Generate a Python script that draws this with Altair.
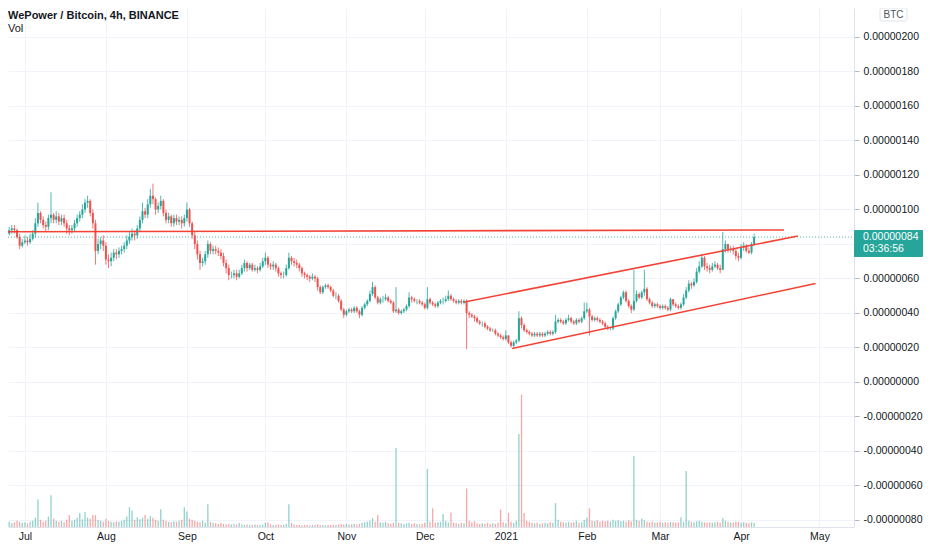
import altair as alt
import pandas as pd

# Prices are in satoshi (1e-8 BTC); the axis labels scale them back.
first_day = "2020-06-24"
first_open = 85

closes = [
    86, 88, 89, 88, 84, 79, 81, 82, 81, 83,
    86, 92, 98, 94, 91, 90, 95, 97, 94, 96,
    93, 95, 92, 89, 88, 89, 92, 95, 97, 100,
    104, 105, 98, 92, 76, 80, 82, 79, 71, 70,
    72, 75, 74, 76, 77, 79, 82, 84, 86, 85,
    89, 94, 99, 97, 103, 108, 106, 100, 102, 105,
    98, 94, 96, 92, 95, 93, 94, 92, 95, 100,
    92, 85, 80, 74, 69, 70, 74, 80, 76, 77,
    76, 75, 73, 69, 66, 62, 62, 63, 61, 63,
    66, 69, 66, 68, 65, 66, 65, 67, 70, 72,
    68, 67, 68, 66, 63, 62, 62, 66, 72, 70,
    69, 68, 66, 63, 62, 61, 60, 61, 60, 55,
    52, 55, 56, 55, 53, 50, 50, 47, 42, 39,
    41, 42, 41, 43, 41, 39, 43, 45, 47, 51,
    55, 49, 46, 48, 48, 49, 47, 46, 41, 42,
    40, 41, 42, 44, 49, 48, 47, 47, 46, 45,
    43, 48, 46, 45, 44, 46, 47, 47, 48, 50,
    48, 47, 46, 47, 46, 47, 40, 39, 38, 37,
    35, 34, 34, 32, 31, 30, 30, 28, 27, 26,
    25, 27, 23, 21, 23, 24, 37, 33, 30, 29,
    28, 27, 28, 27, 28, 27, 28, 29, 28, 29,
    35, 36, 35, 34, 36, 37, 35, 34, 36, 35,
    37, 41, 42, 38, 36, 37, 36, 35, 34, 32,
    31, 31, 37, 41, 45, 49, 52, 47, 44, 42,
    47, 51, 49, 52, 54, 48, 46, 44, 45, 44,
    43, 44, 43, 42, 48, 45, 44, 43, 45, 49,
    53, 57, 56, 58, 64, 67, 72, 67, 66, 65,
    67, 68, 66, 65, 77, 80, 77, 77, 76, 73,
    72, 78, 79, 76, 75, 80, 84,
]

highs = [
    89, 90, 91, 91, 89, 86, 83, 85, 84, 86,
    88, 95, 104, 99, 96, 93, 97, 110, 98, 99,
    98, 97, 97, 94, 91, 91, 94, 97, 99, 103,
    106, 108, 106, 100, 94, 83, 84, 85, 81, 74,
    75, 77, 77, 78, 79, 81, 85, 87, 89, 88,
    91, 96, 104, 101, 106, 112, 115, 107, 104, 108,
    106, 100, 98, 97, 97, 97, 96, 96, 97, 104,
    101, 93, 87, 82, 76, 72, 76, 82, 81, 79,
    79, 78, 77, 75, 71, 68, 64, 65, 65, 65,
    68, 71, 70, 69, 69, 68, 67, 69, 72, 75,
    73, 69, 70, 69, 67, 64, 64, 68, 75, 73,
    72, 71, 69, 67, 64, 63, 62, 63, 62, 61,
    56, 56, 57, 57, 56, 54, 52, 51, 48, 43,
    42, 43, 43, 44, 44, 42, 44, 46, 48, 53,
    58, 56, 50, 49, 50, 51, 50, 48, 47, 55,
    43, 42, 43, 45, 52, 50, 49, 48, 48, 47,
    46, 55, 49, 47, 46, 47, 48, 49, 50, 53,
    51, 49, 48, 48, 48, 48, 48, 41, 40, 39,
    38, 36, 35, 35, 33, 32, 31, 31, 29, 28,
    27, 30, 27, 24, 24, 25, 41, 38, 34, 31,
    30, 29, 29, 29, 29, 29, 29, 30, 30, 30,
    39, 37, 37, 36, 37, 39, 38, 36, 37, 37,
    38, 46, 46, 43, 39, 38, 38, 37, 36, 35,
    33, 32, 38, 42, 46, 50, 53, 53, 48, 45,
    65, 53, 52, 53, 65, 55, 49, 47, 46, 46,
    45, 45, 45, 44, 49, 48, 46, 45, 46, 51,
    55, 59, 58, 60, 66, 70, 74, 73, 69, 68,
    69, 70, 69, 68, 87, 82, 80, 79, 79, 77,
    75, 80, 81, 80, 78, 81, 86,
]

lows = [
    83, 85, 86, 86, 83, 77, 78, 80, 79, 80,
    82, 84, 90, 92, 89, 87, 88, 92, 92, 92,
    91, 91, 90, 86, 85, 86, 87, 90, 93, 95,
    98, 101, 96, 89, 68, 74, 77, 76, 68, 66,
    67, 70, 71, 72, 74, 75, 77, 80, 82, 82,
    83, 87, 92, 95, 95, 101, 103, 97, 98, 100,
    96, 92, 92, 90, 90, 91, 91, 89, 90, 93,
    90, 83, 77, 71, 65, 67, 68, 72, 74, 74,
    74, 73, 71, 67, 63, 59, 60, 60, 59, 60,
    62, 64, 64, 65, 64, 64, 63, 64, 66, 68,
    66, 65, 65, 64, 61, 60, 60, 61, 65, 68,
    67, 66, 64, 61, 60, 59, 58, 59, 58, 53,
    51, 51, 54, 54, 52, 49, 48, 46, 41, 37,
    38, 40, 40, 40, 40, 37, 38, 42, 44, 46,
    50, 48, 45, 45, 46, 47, 46, 45, 40, 40,
    39, 39, 40, 41, 43, 46, 46, 45, 45, 44,
    42, 42, 45, 44, 43, 43, 45, 45, 46, 47,
    47, 46, 45, 45, 45, 45, 19, 37, 37, 35,
    34, 33, 32, 31, 30, 29, 29, 27, 26, 25,
    24, 24, 22, 20, 20, 22, 23, 31, 29, 28,
    27, 26, 26, 26, 26, 26, 26, 27, 27, 27,
    28, 34, 34, 33, 33, 35, 34, 33, 33, 34,
    34, 36, 40, 27, 35, 35, 35, 34, 33, 31,
    30, 30, 30, 36, 40, 44, 48, 46, 43, 40,
    41, 46, 48, 48, 50, 47, 45, 43, 43, 43,
    42, 42, 42, 41, 41, 44, 43, 42, 42, 44,
    48, 52, 54, 55, 57, 63, 66, 65, 64, 63,
    64, 66, 65, 63, 68, 75, 75, 75, 74, 71,
    70, 71, 76, 75, 74, 74, 79,
]

volumes = [
    8, 10, 7, 9, 12, 10, 8, 9, 7, 10,
    12, 18, 53, 14, 10, 12, 20, 61, 16, 12,
    10, 12, 9, 14, 23, 12, 14, 18, 27, 15,
    29, 18, 16, 23, 23, 14, 12, 10, 16, 12,
    10, 9, 11, 10, 12, 14, 20, 38, 32, 14,
    19, 15, 18, 23, 16, 21, 18, 14, 12, 34,
    14, 12, 10, 9, 11, 10, 12, 14, 38, 30,
    16, 14, 12, 10, 9, 12, 8, 44, 10, 8,
    7, 6, 8, 6, 5, 6, 5, 6, 5, 8,
    5, 4, 5, 4, 4, 5, 4, 4, 5, 8,
    9, 5, 4, 4, 5, 4, 4, 6, 44, 8,
    5, 4, 4, 3, 4, 4, 3, 4, 4, 5,
    4, 4, 3, 4, 4, 5, 4, 5, 6, 5,
    6, 5, 5, 6, 5, 6, 8, 9, 10, 12,
    17, 10, 23, 9, 8, 10, 7, 6, 8, 152,
    8, 7, 6, 7, 8, 6, 7, 6, 5, 6,
    8, 112, 10, 36, 8, 9, 10, 25, 12, 9,
    28, 8, 7, 6, 8, 7, 74, 12, 9, 11,
    7, 6, 7, 6, 8, 6, 7, 6, 8, 34,
    9, 7, 27, 10, 8, 12, 179, 255, 27, 12,
    10, 8, 7, 8, 6, 7, 8, 7, 9, 8,
    46, 14, 10, 9, 8, 10, 8, 9, 12, 8,
    9, 14, 18, 36, 12, 11, 13, 10, 12, 11,
    12, 10, 14, 12, 13, 11, 12, 10, 13, 11,
    137, 14, 12, 16, 13, 10, 9, 11, 8, 9,
    10, 8, 9, 8, 10, 9, 8, 9, 19, 10,
    108, 12, 10, 9, 11, 12, 10, 9, 8, 9,
    8, 9, 10, 8, 17, 12, 10, 9, 8, 10,
    10, 8, 9, 8, 7, 9, 8,
]

# drawn trend lines: resistance, channel top, channel bottom
line_start = ["2020-06-23T10:00:00", "2020-12-16T05:00:00", "2021-01-03T10:00:00"]
line_end = ["2021-04-17T10:00:00", "2021-04-22T17:00:00", "2021-04-29T12:00:00"]
line_p1 = [87.1, 46.4, 19.4]
line_p2 = [88.1, 84.6, 57.1]

last_price = 84
last_price_label = "0.00000084"
countdown = "03:36:56"
chart_title = "WePower / Bitcoin, 4h, BINANCE"

price_ticks = [-80, -60, -40, -20, 0, 20, 40, 60, 80, 100, 120, 140, 160, 180, 200]
month_ticks = [
    alt.DateTime(year=2020, month=7, date=1),
    alt.DateTime(year=2020, month=8, date=1),
    alt.DateTime(year=2020, month=9, date=1),
    alt.DateTime(year=2020, month=10, date=1),
    alt.DateTime(year=2020, month=11, date=1),
    alt.DateTime(year=2020, month=12, date=1),
    alt.DateTime(year=2021, month=1, date=1),
    alt.DateTime(year=2021, month=2, date=1),
    alt.DateTime(year=2021, month=3, date=1),
    alt.DateTime(year=2021, month=4, date=1),
    alt.DateTime(year=2021, month=5, date=1),
]

TEAL = "#26a69a"
RED = "#ef5350"
LINE_RED = "#f44336"
TEXT = "#131722"
GRID = "#f0f3fa"
FONT = "Liberation Sans"

opens = [first_open] + closes[:-1]
candles = pd.DataFrame({
    "date": pd.date_range(first_day, periods=len(closes), freq="D"),
    "open": opens,
    "high": highs,
    "low": lows,
    "close": closes,
    "volume": volumes,
})
candles["dir"] = ["up" if c >= o else "down" for o, c in zip(opens, closes)]

trends = pd.DataFrame({"start": line_start, "end": line_end, "p1": line_p1, "p2": line_p2})
last = pd.DataFrame({"p": [last_price], "label": [last_price_label], "timer": [countdown]})

x_scale = alt.Scale(domain=[alt.DateTime(year=2020, month=6, date=26, hours=11),
                            alt.DateTime(year=2021, month=5, date=12, hours=7)])
x_axis = alt.Axis(values=month_ticks, title="", grid=True, gridColor=GRID,
                  domainColor="#e0e3eb", ticks=False, labelPadding=4,
                  labelFont=FONT, labelFontSize=10.5, labelColor=TEXT,
                  labelExpr="month(datum.value) == 0 ? timeFormat(datum.value, '%Y') : timeFormat(datum.value, '%b')")
y_scale = alt.Scale(domain=[-84.06, 216.8], nice=False, zero=False)
# the 0.00000080 label sits under the last-price box, so it is left blank
y_axis = alt.Axis(orient="right", values=price_ticks, title="", grid=True, gridColor=GRID,
                  domainColor="#e0e3eb", tickColor="#b2b5be", tickSize=5, labelPadding=4,
                  labelFont=FONT, labelFontSize=10.5, labelColor=TEXT,
                  labelExpr="datum.value == 80 ? '' : (datum.value < 0 ? '-' : '') + format(abs(datum.value) / 100000000, '.8f')")
color = alt.Color("dir:N", scale=alt.Scale(domain=["up", "down"], range=[TEAL, RED]), legend=None)

vol = alt.Chart(candles).mark_bar(size=1.3, opacity=0.5, clip=True).encode(
    x=alt.X("date:T", scale=x_scale, axis=x_axis),
    y=alt.Y("volume:Q", scale=alt.Scale(domain=[0, 1000]), axis=None),
    color=color,
)

price_line = alt.Chart(last).mark_rule(color=TEAL, strokeWidth=1, strokeDash=[1, 2], opacity=0.8).encode(
    x=alt.value(0), x2=alt.value(846),
    y=alt.Y("p:Q", scale=y_scale, axis=y_axis),
)

wicks = alt.Chart(candles).mark_rule(strokeWidth=0.8, clip=True).encode(
    x=alt.X("date:T", scale=x_scale, axis=x_axis),
    y=alt.Y("low:Q", scale=y_scale, axis=y_axis),
    y2="high:Q",
    color=color,
)

bodies = alt.Chart(candles).mark_bar(size=2.0, clip=True).encode(
    x=alt.X("date:T", scale=x_scale, axis=x_axis),
    y=alt.Y("open:Q", scale=y_scale, axis=y_axis),
    y2="close:Q",
    color=color,
)

lines = alt.Chart(trends).mark_rule(color=LINE_RED, strokeWidth=1.6, clip=True).encode(
    x=alt.X("start:T", scale=x_scale, axis=x_axis),
    x2="end:T",
    y=alt.Y("p1:Q", scale=y_scale, axis=y_axis),
    y2="p2:Q",
)

box = alt.Chart(last).mark_rect(color=TEAL, yOffset=-7, y2Offset=20, cornerRadius=1).encode(
    x=alt.value(846), x2=alt.value(915),
    y=alt.Y("p:Q", scale=y_scale, axis=y_axis),
    y2="p:Q",
)
box_price = alt.Chart(last).mark_text(align="left", baseline="middle", color="white",
                                      font=FONT, fontSize=10.5).encode(
    x=alt.value(855), y=alt.Y("p:Q", scale=y_scale, axis=y_axis), text="label:N",
)
box_timer = alt.Chart(last).mark_text(align="left", baseline="middle", color="white",
                                      font=FONT, fontSize=10.5, dy=12).encode(
    x=alt.value(855), y=alt.Y("p:Q", scale=y_scale, axis=y_axis), text="timer:N",
)

price = alt.layer(price_line, wicks, bodies, lines, box, box_price, box_timer)

labels = pd.DataFrame({"t": [chart_title], "v": ["Vol"], "c": ["BTC"]})
title_text = alt.Chart(labels).mark_text(align="left", baseline="alphabetic", font=FONT,
                                         fontSize=11, fontWeight="bold", color=TEXT).encode(
    x=alt.value(0), y=alt.value(10.5), text="t:N")
vol_text = alt.Chart(labels).mark_text(align="left", baseline="alphabetic", font=FONT,
                                       fontSize=11, color=TEXT).encode(
    x=alt.value(0), y=alt.value(24), text="v:N")
btc_box = alt.Chart(labels).mark_rect(fill="white", stroke="#e0e3eb", cornerRadius=2).encode(
    x=alt.value(872), x2=alt.value(899), y=alt.value(0), y2=alt.value(13))
btc_text = alt.Chart(labels).mark_text(align="center", baseline="middle", font=FONT,
                                       fontSize=10, color="#50535e").encode(
    x=alt.value(885.5), y=alt.value(6.5), text="c:N")

chart = alt.layer(vol, price, title_text, vol_text, btc_box, btc_text).resolve_scale(
    y="independent"
).properties(
    width=846,
    height=519,
    autosize=alt.AutoSizeParams(type="none"),
    padding={"left": 0, "top": 0, "right": 70, "bottom": 15},
).configure_view(stroke="transparent")

chart.save("out.html", embed_options={"renderer": "svg", "actions": False})
